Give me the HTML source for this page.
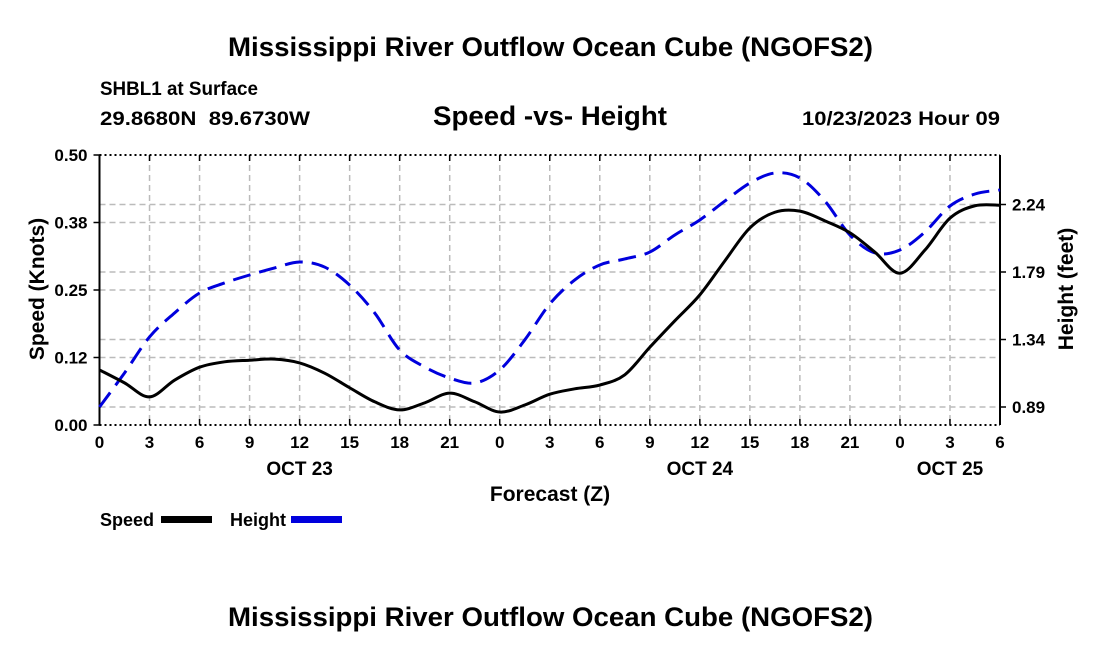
<!DOCTYPE html>
<html><head><meta charset="utf-8"><style>
body{margin:0;background:#fff;width:1100px;height:650px;overflow:hidden}
svg{display:block;font-family:"Liberation Sans",Arial,sans-serif;font-weight:bold}
</style></head><body>
<svg id="chart" width="1100" height="650">
<text x="228" y="56" font-size="27" textLength="645" lengthAdjust="spacingAndGlyphs">Mississippi River Outflow Ocean Cube (NGOFS2)</text>
<text x="100" y="95" font-size="19" textLength="158" lengthAdjust="spacingAndGlyphs">SHBL1 at Surface</text>
<text x="100" y="125" font-size="19" textLength="210" lengthAdjust="spacingAndGlyphs" xml:space="preserve">29.8680N  89.6730W</text>
<text x="433" y="125" font-size="27" textLength="234" lengthAdjust="spacingAndGlyphs">Speed -vs- Height</text>
<text x="802" y="125" font-size="19" textLength="198" lengthAdjust="spacingAndGlyphs">10/23/2023 Hour 09</text>
<text x="228" y="626" font-size="27" textLength="645" lengthAdjust="spacingAndGlyphs">Mississippi River Outflow Ocean Cube (NGOFS2)</text>
<g id="plot"></g>
</svg>
<script>
const hours=[0,1.5,3,4.5,6,7.5,9,10.5,12,13.5,15,16.5,18,19.5,21,22.5,24,25.5,27,28.5,30,31.5,33,34.5,36,37.5,39,40.5,42,43.5,45,46.5,48,49.5,51,52.5,54];
const speedValues=[0.102,0.078,0.052,0.083,0.107,0.117,0.120,0.122,0.115,0.096,0.069,0.043,0.028,0.041,0.059,0.043,0.024,0.037,0.057,0.067,0.074,0.093,0.144,0.193,0.241,0.304,0.365,0.394,0.396,0.378,0.356,0.320,0.281,0.324,0.383,0.406,0.407];
const heightValues=[0.89,1.117,1.357,1.517,1.65,1.717,1.77,1.817,1.857,1.823,1.703,1.517,1.27,1.157,1.083,1.05,1.137,1.337,1.577,1.737,1.837,1.877,1.923,2.037,2.137,2.263,2.383,2.45,2.417,2.263,2.037,1.917,1.937,2.057,2.23,2.31,2.337];
const xTickLabels=["0","3","6","9","12","15","18","21","0","3","6","9","12","15","18","21","0","3","6"];
const dayLabels=["OCT 23","OCT 24","OCT 25"];
const dayHours=[12,36,51];
const speedTicks=[0,0.125,0.25,0.375,0.5];
const speedTickLabels=["0.00","0.12","0.25","0.38","0.50"];
const heightTicks=[0.89,1.34,1.79,2.24];
const heightTickLabels=["0.89","1.34","1.79","2.24"];

const L=99.5,R=1000,T=155,B=425;
const xS=h=>L+(R-L)*h/54;
const yS=v=>B-(B-T)*v/0.5;
const yH=v=>407-(v-0.89)*150;
const NS="http://www.w3.org/2000/svg";
const g=document.getElementById('plot');
function mk(tag,attrs,parent){const e=document.createElementNS(NS,tag);for(const k in attrs)e.setAttribute(k,attrs[k]);(parent||g).appendChild(e);return e;}

for(let i=0;i<xTickLabels.length;i++){
  const x=xS(i*3);
  if(i>0&&i<xTickLabels.length-1){const l=mk('line',{x1:x,x2:x,y1:T,y2:B,stroke:'#bbb','stroke-width':1.5,'stroke-dasharray':'6,4'});
  
  }
  const tk=mk('line',{x1:x,x2:x,y1:B,y2:B-6,stroke:'#000','stroke-width':1.5});
  
  
  const tk2=mk('line',{x1:x,x2:x,y1:T,y2:T+6,stroke:'#000','stroke-width':1.5});
  
  
  const t=mk('text',{x:x,y:448,'text-anchor':'middle','font-size':17});
  t.textContent=xTickLabels[i];
  
  
}
for(let i=0;i<dayLabels.length;i++){
  const t=mk('text',{x:xS(dayHours[i]),y:475,'text-anchor':'middle','font-size':19});
  t.textContent=dayLabels[i];
  
  
}
for(let i=0;i<speedTicks.length;i++){
  const y=yS(speedTicks[i]);
  if(i>0&&i<speedTicks.length-1){const l=mk('line',{x1:L,x2:R,y1:y,y2:y,stroke:'#bbb','stroke-width':1.5,'stroke-dasharray':'6,4'});
  
  }
  const tk=mk('line',{x1:L-6,x2:L,y1:y,y2:y,stroke:'#000','stroke-width':1.5});
  
  
  const t=mk('text',{x:L-12,y:y+6,'text-anchor':'end','font-size':17});
  t.textContent=speedTickLabels[i];
  
  
}
for(let i=0;i<heightTicks.length;i++){
  const y=yH(heightTicks[i]);
  const l=mk('line',{x1:L,x2:R,y1:y,y2:y,stroke:'#bbb','stroke-width':1.5,'stroke-dasharray':'6,4'});
  
  
  const tk=mk('line',{x1:R,x2:R+6,y1:y,y2:y,stroke:'#000','stroke-width':1.5});
  
  
  const t=mk('text',{x:R+12,y:y+6,'font-size':17});
  t.textContent=heightTickLabels[i];
  
  
}
[[L,T,R,T,'2,3'],[L,B,R,B,'2,3']].forEach(a=>{const l=mk('line',{x1:a[0],y1:a[1],x2:a[2],y2:a[3],stroke:'#000','stroke-width':2,'stroke-dasharray':a[4]});

});
const la=mk('line',{x1:L,x2:L,y1:T,y2:B,stroke:'#000','stroke-width':2});


const ra=mk('line',{x1:R,x2:R,y1:T,y2:B,stroke:'#000','stroke-width':2});



function smooth(pts){let d=`M${pts[0][0]},${pts[0][1]}`;
  for(let i=0;i<pts.length-1;i++){const p0=pts[Math.max(0,i-1)],p1=pts[i],p2=pts[i+1],p3=pts[Math.min(pts.length-1,i+2)];
  d+=` C${p1[0]+(p2[0]-p0[0])/6},${p1[1]+(p2[1]-p0[1])/6} ${p2[0]-(p3[0]-p1[0])/6},${p2[1]-(p3[1]-p1[1])/6} ${p2[0]},${p2[1]}`;}
  return d;}
const hp=mk('path',{d:smooth(hours.map((h,i)=>[xS(h),yH(heightValues[i])])),fill:'none',stroke:'#0000dd','stroke-width':3,'stroke-dasharray':'18,9'});


const sp=mk('path',{d:smooth(hours.map((h,i)=>[xS(h),yS(speedValues[i])])),fill:'none',stroke:'#000','stroke-width':3});



const xt=mk('text',{x:550,y:501,'text-anchor':'middle','font-size':21});
xt.textContent='Forecast (Z)';


const yt=mk('text',{x:0,y:0,'text-anchor':'middle','font-size':21,transform:'translate(44,289) rotate(-90)'});
yt.textContent='Speed (Knots)';


const yt2=mk('text',{x:0,y:0,'text-anchor':'middle','font-size':21,transform:'translate(1073,289) rotate(-90)'});
yt2.textContent='Height (feet)';



const lg=mk('g',{});


const l1=mk('text',{x:100,y:526,'font-size':18},lg);l1.textContent='Speed';


const s1=mk('rect',{x:161,y:516,width:51,height:7,fill:'#000'},lg);


const l2=mk('text',{x:230,y:526,'font-size':18},lg);l2.textContent='Height';


const s2=mk('rect',{x:291,y:516,width:51,height:7,fill:'#0000dd'},lg);


</script>
</body></html>
